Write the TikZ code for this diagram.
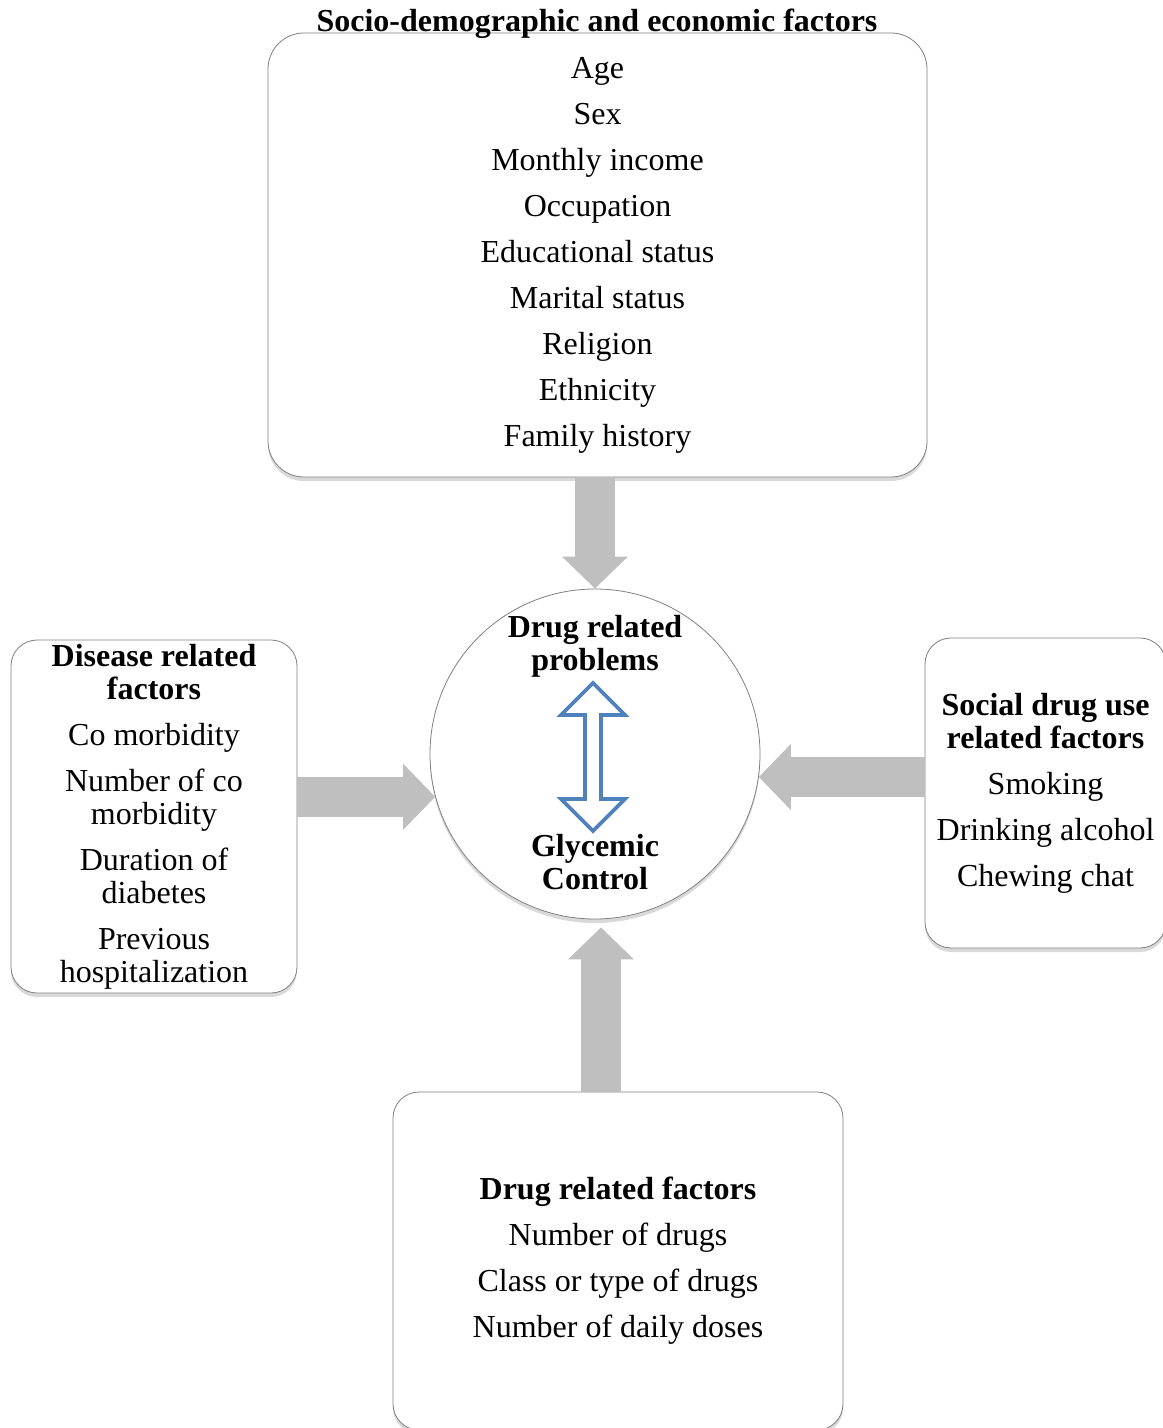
\documentclass[tikz,border=0pt]{standalone}
\usepackage{fontspec}
\setmainfont{Liberation Serif}
\usepackage{xcolor}
\usepackage{tikz}
\usetikzlibrary{arrows.meta,shadows}
\definecolor{arrowgray}{HTML}{BFBFBF}
\definecolor{linkblue}{HTML}{4F81BD}

\begin{document}
\begin{tikzpicture}[x=0.5pt, y=-0.5pt]
    \tikzstyle{every node}=[font=\fontsize{16}{16.5}\selectfont]
\tikzstyle{factorbox}=[draw=gray, thin, fill=white, rounded corners=13pt, align=center, inner sep=0pt, drop shadow={shadow xshift=0pt, shadow yshift=-2pt, opacity=0.3}]
\tikzstyle{heading}=[font=\fontsize{16}{16.5}\selectfont\bfseries, align=center]
\tikzstyle{fatarrow}=[draw=arrowgray, line width=20pt, -{Triangle[length=16pt, width=32pt]}]
\useasboundingbox (0,0) rectangle (1162,1428);
\node[factorbox, rounded corners=18pt, minimum width=329.5pt, minimum height=222pt] (sociobox) at (597.5,255) {
    Age\\[6.5pt]
    Sex\\[6.5pt]
    Monthly income\\[6.5pt]
    Occupation\\[6.5pt]
    Educational status\\[6.5pt]
    Marital status\\[6.5pt]
    Religion\\[6.5pt]
    Ethnicity\\[6.5pt]
    Family history
};
\node[heading, anchor=base] (title) at (597,32) {Socio-demographic and economic factors};
\node[factorbox, minimum width=143pt, minimum height=176.5pt] (diseasebox) at (154,816.5) {
    \textbf{Disease related}\\
    \textbf{factors}\\[6.5pt]
    Co morbidity\\[6.5pt]
    Number of co\\
    morbidity\\[6.5pt]
    Duration of\\
    diabetes\\[6.5pt]
    Previous\\
    hospitalization
};
\node[factorbox, minimum width=120.5pt, minimum height=155pt] (socialbox) at (1045.5,793) {
    \textbf{Social drug use}\\
    \textbf{related factors}\\[6.5pt]
    Smoking\\[6.5pt]
    Drinking alcohol\\[6.5pt]
    Chewing chat
};
\node[factorbox, minimum width=225pt, minimum height=169pt] (drugbox) at (618,1261) {
    \textbf{Drug related factors}\\[6.5pt]
    Number of drugs\\[6.5pt]
    Class or type of drugs\\[6.5pt]
    Number of daily doses
};
\node[circle, draw=gray, thin, fill=white, minimum size=165pt, inner sep=0pt, drop shadow={shadow xshift=0pt, shadow yshift=-2pt, opacity=0.3}] (hub) at (595,754) {};
\node[heading] (drp) at (595,646) {Drug related\\problems};
\node[heading] (glycemic) at (595,862) {Glycemic\\Control};
\coordinate (tipup) at (593,683);
\draw[linkblue, line width=1.8pt, fill=white, line join=miter] (tipup) -- ++(32,32) -- ++(-24,0) -- ++(0,84) -- ++(24,0) -- ++(-32,32) -- ++(-32,-32) -- ++(24,0) -- ++(0,-84) -- ++(-24,0) -- cycle;
\draw[fatarrow] (hub.north |- sociobox.south) -- (hub.north);
\draw[fatarrow] (hub.195 -| diseasebox.east) -- (hub.195);
\draw[fatarrow] (hub.-8 -| socialbox.west) -- (hub.-8);
\draw[fatarrow, shorten >=4pt] ([xshift=3pt]hub.south |- drugbox.north) -- ([xshift=3pt]hub.south);
\end{tikzpicture}
\end{document}
